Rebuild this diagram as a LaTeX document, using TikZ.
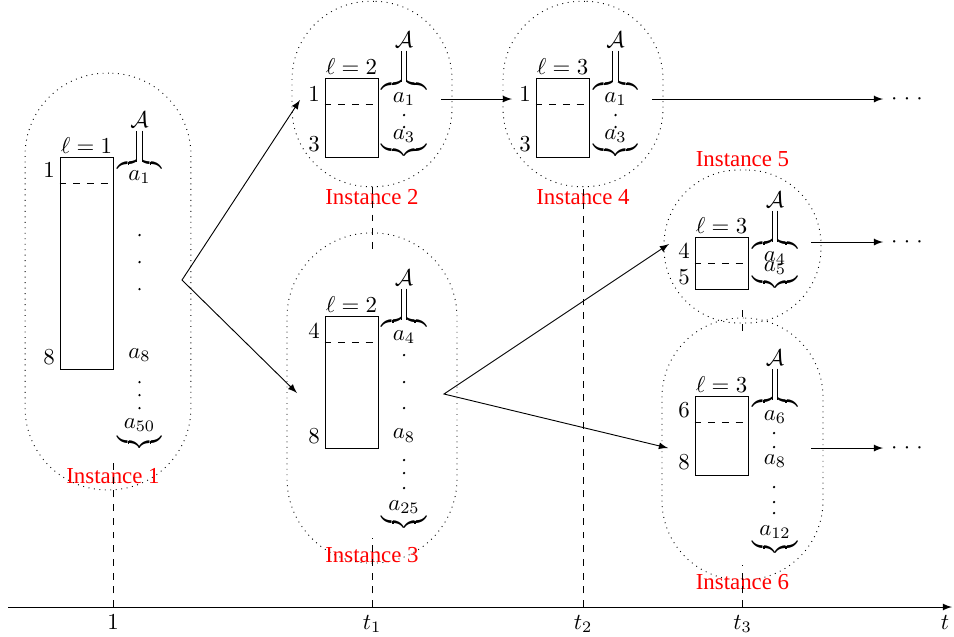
\documentclass[tikz,border=0pt]{standalone}
\usepackage{fontspec}
\newfontfamily\instfont{Liberation Serif}
\usetikzlibrary{positioning,arrows}
\tikzstyle{instframe} = [rectangle, draw, dotted]
\tikzstyle{stackbox} = [rectangle, draw, minimum width=0.815cm, inner sep=0pt]
\tikzstyle{instname} = [text=red, font=\instfont, inner sep=1pt]
\tikzstyle{setname} = [inner sep=1pt]
\tikzstyle{eqbar} = [double, double distance=2pt]
\tikzstyle{tight} = [inner sep=0pt]
\tikzstyle{connect} = [-latex]
\tikzstyle{timeline} = [dashed]
\newcommand{\topbrace}{$\overbrace{\hspace{19.5pt}}$}
\newcommand{\botbrace}{$\underbrace{\hspace{19.5pt}}$}
\newcommand{\moredots}{$\cdotp\mkern2mu\cdotp\mkern2mu\cdotp$}

\begin{document}
\begin{tikzpicture}[x=0.01538cm, y=-0.01538cm]
\useasboundingbox (0,0) rectangle (954,636);
%----------------------------------------------- time axis
\coordinate (axstart) at (8,607);
\coordinate (axend) at (952,607);
\coordinate (tick1) at (113,607);
\coordinate (tick2) at (372,607);
\coordinate (tick3) at (583,607);
\coordinate (tick4) at (742.5,607);
\coordinate (tickt) at (945,607);
\draw [connect] (axstart) -- (axend);
\node (time1) [below=0pt of tick1] {$1$};
\node (time2) [below=0pt of tick2] {$t_1$};
\node (time3) [below=0pt of tick3] {$t_2$};
\node (time4) [below=0pt of tick4] {$t_3$};
\node (timet) [below=0pt of tickt] {$t$};
%----------------------------------------------- instance 1
\node (frame1) [instframe, minimum width=2.55cm, minimum height=6.41cm, rounded corners=1.26cm] at (108,281.5) {};
\node (stack1) [stackbox, minimum height=3.26cm] at (86.5,263) {};
\draw [dashed] ([yshift=-0.41cm]stack1.north west) -- ([yshift=-0.41cm]stack1.north east);
\node (ell1) [setname, above=0pt of stack1] {$\ell=1$};
\node (top1) at (49,170) {$1$};
\node (bot1) at (49,357) {$8$};
\node (set1) [setname] at (139.5,120) {$\mathcal{A}$};
\node (ob1) [tight] at (139.5,163.5) {\topbrace};
\draw [eqbar] (set1) -- ([yshift=-3pt]ob1.north);
\node (first1) at (139.5,177) {$a_1$};
\foreach \y in {235,262,289,382,395,408} \fill (139.5,\y) circle (0.55pt);
\node (mid1) at (139.5,355) {$a_8$};
\node (last1) at (139.5,425) {$a_{50}$};
\node (ub1) [tight] at (139.5,442.5) {\botbrace};
\node (name1) [instname] at (113,476) {Instance 1};
%----------------------------------------------- instance 2
\node (frame2) [instframe, minimum width=2.46cm, minimum height=2.85cm, rounded corners=1.2cm] at (372,94) {};
\node (stack2) [stackbox, minimum height=1.215cm] at (351.5,117.5) {};
\draw [dashed] ([yshift=-0.41cm]stack2.north west) -- ([yshift=-0.41cm]stack2.north east);
\node (ell2) [setname, above=0pt of stack2] {$\ell=2$};
\node (top2) at (314,94) {$1$};
\node (bot2) at (314,144.5) {$3$};
\node (set2) [setname] at (404,40) {$\mathcal{A}$};
\node (ob2) [tight] at (404,84) {\topbrace};
\draw [eqbar] (set2) -- ([yshift=-3pt]ob2.north);
\node (first2) at (404,99) {$a_1$};
\foreach \y in {115,127} \fill (404,\y) circle (0.55pt);
\node (last2) at (404,136) {$a_3$};
\node (ub2) [tight] at (404,150) {\botbrace};
\node (name2) [instname] at (372,197) {Instance 2};
%----------------------------------------------- instance 3
\node (frame3) [instframe, minimum width=2.615cm, minimum height=5.08cm, rounded corners=1.3cm] at (372,398) {};
\node (stack3) [stackbox, minimum height=2.031cm] at (351.5,382) {};
\draw [dashed] ([yshift=-0.41cm]stack3.north west) -- ([yshift=-0.41cm]stack3.north east);
\node (ell3) [setname, above=0pt of stack3] {$\ell=2$};
\node (top3) at (314,331) {$4$};
\node (bot3) at (314,436) {$8$};
\node (set3) [setname] at (404,278) {$\mathcal{A}$};
\node (ob3) [tight] at (404,321.5) {\topbrace};
\draw [eqbar] (set3) -- ([yshift=-3pt]ob3.north);
\node (first3) at (404,337) {$a_4$};
\foreach \y in {355,382,408,460,473,488} \fill (404,\y) circle (0.55pt);
\node (mid3) at (404,435.5) {$a_8$};
\node (last3) at (404,507) {$a_{25}$};
\node (ub3) [tight] at (404,522.5) {\botbrace};
\node (name3) [instname] at (372,555) {Instance 3};
%----------------------------------------------- instance 4
\node (frame4) [instframe, minimum width=2.46cm, minimum height=2.85cm, rounded corners=1.2cm] at (583,94) {};
\node (stack4) [stackbox, minimum height=1.215cm] at (562.5,117.5) {};
\draw [dashed] ([yshift=-0.41cm]stack4.north west) -- ([yshift=-0.41cm]stack4.north east);
\node (ell4) [setname, above=0pt of stack4] {$\ell=3$};
\node (top4) at (525,94) {$1$};
\node (bot4) at (525,144.5) {$3$};
\node (set4) [setname] at (615.5,40) {$\mathcal{A}$};
\node (ob4) [tight] at (615.5,84) {\topbrace};
\draw [eqbar] (set4) -- ([yshift=-3pt]ob4.north);
\node (first4) at (615.5,99) {$a_1$};
\foreach \y in {115,127} \fill (615.5,\y) circle (0.55pt);
\node (last4) at (615.5,136) {$a_3$};
\node (ub4) [tight] at (615.5,150) {\botbrace};
\node (name4) [instname] at (583,197) {Instance 4};
%----------------------------------------------- instance 5
\node (frame5) [instframe, minimum width=2.415cm, minimum height=2.354cm, rounded corners=1.15cm] at (742.5,246.5) {};
\node (stack5) [stackbox, minimum height=0.8cm] at (721.5,263) {};
\draw [dashed] ([yshift=-0.41cm]stack5.north west) -- ([yshift=-0.41cm]stack5.north east);
\node (ell5) [setname, above=0pt of stack5] {$\ell=3$};
\node (top5) at (684,251) {$4$};
\node (bot5) at (684,277) {$5$};
\node (set5) [setname] at (775,200) {$\mathcal{A}$};
\node (ob5) [tight] at (775,243.5) {\topbrace};
\draw [eqbar] (set5) -- ([yshift=-3pt]ob5.north);
\node (first5) at (775,258) {$a_4$};
\node (last5) at (775,268) {$a_5$};
\node (ub5) [tight] at (775,282.5) {\botbrace};
\node (name5) [instname] at (742.5,159) {Instance 5};
%----------------------------------------------- instance 6
\node (frame6) [instframe, minimum width=2.477cm, minimum height=4.03cm, rounded corners=1.22cm] at (742.5,449) {};
\node (stack6) [stackbox, minimum height=1.215cm] at (721.5,435.5) {};
\draw [dashed] ([yshift=-0.41cm]stack6.north west) -- ([yshift=-0.41cm]stack6.north east);
\node (ell6) [setname, above=0pt of stack6] {$\ell=3$};
\node (top6) at (684,410) {$6$};
\node (bot6) at (684,462) {$8$};
\node (set6) [setname] at (775,358) {$\mathcal{A}$};
\node (ob6) [tight] at (775,401.5) {\topbrace};
\draw [eqbar] (set6) -- ([yshift=-3pt]ob6.north);
\node (first6) at (775,417) {$a_6$};
\foreach \y in {433,447,487,502,513} \fill (774,\y) circle (0.55pt);
\node (mid6) at (775,461) {$a_8$};
\node (last6) at (775,532) {$a_{12}$};
\node (ub6) [tight] at (775,547.5) {\botbrace};
\node (name6) [instname] at (742.5,582) {Instance 6};
%----------------------------------------------- time lines
\draw [timeline] (tick1) -- ([yshift=0.1cm]name1.north);
\draw [timeline] (tick2) -- ([yshift=0.1cm]name3.north);
\draw [timeline] (frame2.south) -- ([yshift=-0.34cm]frame3.north);
\draw [timeline] (tick3) -- (frame4.south);
\draw [timeline] (tick4) -- ([yshift=0.1cm]name6.north);
\draw [timeline] ([yshift=0.2cm]frame5.south) -- ([yshift=-0.2cm]frame6.north);
%----------------------------------------------- arrows
\coordinate (split1) at (182,280);
\coordinate (in2) at (300,100);
\coordinate (in3) at (297,393);
\draw [latex-latex] (in2) -- (split1) -- (in3);
\coordinate (out2) at (441,99);
\coordinate (in4) at (512,99);
\draw [connect] (out2) -- (in4);
\coordinate (out4) at (652,99);
\node (more4) at (907,99) {\moredots};
\draw [connect] (out4) -- (more4);
\coordinate (split3) at (444,394);
\coordinate (in5) at (669,244);
\coordinate (in6) at (668,448);
\draw [latex-latex] (in5) -- (split3) -- (in6);
\coordinate (out5) at (811,242);
\node (more5) at (907,242) {\moredots};
\draw [connect] (out5) -- (more5);
\coordinate (out6) at (811,448);
\node (more6) at (907,448) {\moredots};
\draw [connect] (out6) -- (more6);
\end{tikzpicture}
\end{document}
